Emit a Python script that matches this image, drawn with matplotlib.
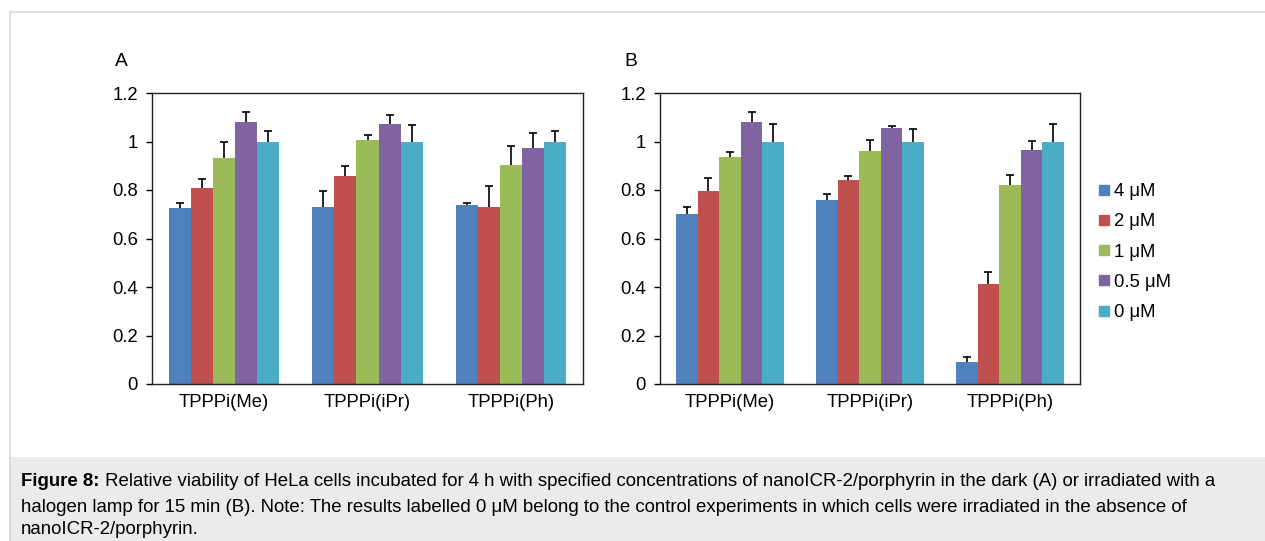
import matplotlib

matplotlib.use("Agg")

import matplotlib.pyplot as plt
import numpy as np
from matplotlib.lines import Line2D
from matplotlib.patches import Rectangle

plt.rcParams["font.family"] = ["Liberation Sans", "DejaVu Sans"]

W, H = 1265, 541

categories = ["TPPPi(Me)", "TPPPi(iPr)", "TPPPi(Ph)"]
series = ["4 μM", "2 μM", "1 μM", "0.5 μM", "0 μM"]
colors = ["#4F81BD", "#C0504D", "#9BBB59", "#8064A2", "#4BACC6"]

# panel A (dark): rows = series, columns = categories
dark_mean = [
    [0.725, 0.731, 0.740],
    [0.810, 0.856, 0.731],
    [0.930, 1.005, 0.903],
    [1.080, 1.072, 0.973],
    [1.000, 1.000, 1.000],
]
dark_err = [
    [0.021, 0.066, 0.006],
    [0.035, 0.044, 0.086],
    [0.068, 0.023, 0.077],
    [0.042, 0.038, 0.060],
    [0.042, 0.066, 0.044],
]

# panel B (irradiated)
light_mean = [
    [0.700, 0.758, 0.089],
    [0.794, 0.841, 0.414],
    [0.936, 0.959, 0.819],
    [1.080, 1.055, 0.963],
    [1.000, 1.000, 1.000],
]
light_err = [
    [0.029, 0.026, 0.024],
    [0.056, 0.016, 0.047],
    [0.020, 0.048, 0.041],
    [0.042, 0.009, 0.039],
    [0.073, 0.050, 0.073],
]

yticks = [0, 0.2, 0.4, 0.6, 0.8, 1.0, 1.2]
ytick_labels = ["0", "0.2", "0.4", "0.6", "0.8", "1", "1.2"]

FS = 13.3


def px_rect(x0, y0, x1, y1):
    return [x0 / W, 1 - y1 / H, (x1 - x0) / W, (y1 - y0) / H]


def draw_panel(ax, means, errs, letter):
    n = len(series)
    group = 0.77
    bw = group / n
    x = np.arange(len(categories))
    for i in range(n):
        pos = x - group / 2 + bw * (i + 0.5)
        top = np.array(means[i]) + np.array(errs[i])
        ax.bar(pos, means[i], width=bw, color=colors[i], linewidth=0, zorder=2)
        # upper-only error bars, Excel style
        ax.vlines(pos, means[i], top, color="black", lw=1.2, zorder=3)
        ax.plot(pos, top, ls="none", marker="_", markersize=5.5,
                markeredgewidth=1.2, color="black", zorder=3)
    ax.set_xlim(-0.5, len(categories) - 0.5)
    ax.set_ylim(0, 1.2)
    ax.set_yticks(yticks)
    ax.set_yticklabels(ytick_labels)
    ax.set_xticks(x)
    ax.set_xticklabels(categories)
    ax.tick_params(axis="y", direction="out", length=4, width=1, labelsize=FS, pad=6)
    ax.tick_params(axis="x", length=0, labelsize=FS, pad=7)
    for s in ax.spines.values():
        s.set_linewidth(1.0)
        s.set_color("#222222")
    ax.text(-0.07, 1.08, letter, transform=ax.transAxes, fontsize=FS + 0.5,
            ha="center", va="bottom")


fig = plt.figure(figsize=(W / 100, H / 100), dpi=100)

# page frame and caption band
fig.add_artist(Rectangle((10 / W, 0), 1 - 10 / W, (H - 457) / H,
                         transform=fig.transFigure, facecolor="#EBEBEB",
                         edgecolor="none", zorder=0))
fig.add_artist(Line2D([9.5 / W, 1], [1 - 11.5 / H, 1 - 11.5 / H],
                      transform=fig.transFigure, color="#DADADA", lw=1.2))
fig.add_artist(Line2D([9.5 / W, 9.5 / W], [0, 1 - 11.5 / H],
                      transform=fig.transFigure, color="#DADADA", lw=1.2))

axA = fig.add_axes(px_rect(152, 93, 583, 384))
axB = fig.add_axes(px_rect(660, 93, 1080, 384))
draw_panel(axA, dark_mean, dark_err, "A")
draw_panel(axB, light_mean, light_err, "B")

handles = [Line2D([], [], marker="s", ls="none", markersize=6.5,
                  markerfacecolor=c, markeredgecolor=c) for c in colors]
fig.legend(handles, series, loc="upper left", bbox_to_anchor=(1098 / W, 1 - 183 / H),
           frameon=False, fontsize=FS, handlelength=0.6, handletextpad=0.25,
           labelspacing=0.72, borderpad=0, borderaxespad=0)

# caption
CFS = 13.45
bold = fig.text(21 / W, 1 - 482 / H, "Figure 8:", fontsize=CFS, fontweight="bold",
                va="center", ha="left")
plt.annotate(" Relative viability of HeLa cells incubated for 4 h with specified concentrations of "
             "nanoICR-2/porphyrin in the dark (A) or irradiated with a",
             xy=(1, 0.5), xycoords=bold, va="center", ha="left", fontsize=CFS,
             annotation_clip=False)
fig.text(21 / W, 1 - 507 / H,
         "halogen lamp for 15 min (B). Note: The results labelled 0 μM belong to the control "
         "experiments in which cells were irradiated in the absence of",
         fontsize=CFS, va="center", ha="left")
fig.text(21 / W, 1 - 530 / H, "nanoICR-2/porphyrin.", fontsize=CFS, va="center", ha="left")

fig.savefig("out.png", dpi=100)
